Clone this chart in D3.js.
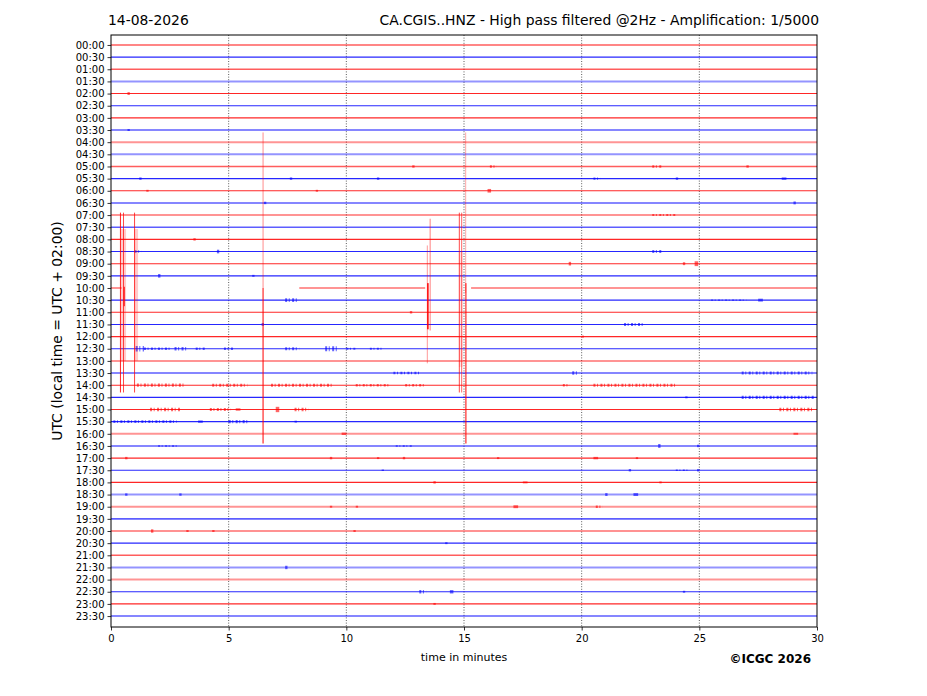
<!DOCTYPE html>
<html>
<head>
<meta charset="utf-8">
<script src="https://cdn.jsdelivr.net/npm/d3@7"></script>
<style>
  body { margin: 0; background: #fff; }
  svg text { font-family: "DejaVu Sans", sans-serif; fill: #000; }
</style>
</head>
<body>
<div id="heli"></div>
<script>
// Row labels (one trace every 30 minutes)
var rowLabels = ["00:00","00:30","01:00","01:30","02:00","02:30","03:00","03:30",
  "04:00","04:30","05:00","05:30","06:00","06:30","07:00","07:30",
  "08:00","08:30","09:00","09:30","10:00","10:30","11:00","11:30",
  "12:00","12:30","13:00","13:30","14:00","14:30","15:00","15:30",
  "16:00","16:30","17:00","17:30","18:00","18:30","19:00","19:30",
  "20:00","20:30","21:00","21:30","22:00","22:30","23:00","23:30"];

// Background noise level of each trace (1 quiet .. 3 noisy)
var rowNoise = [2,1,2,3,1,1,1,2, 3,3,2,1,1,2,3,2, 1,1,1,1,3,1,1,1,
  1,1,3,2,1,1,1,1, 3,2,1,1,1,3,3,2, 1,1,2,3,3,1,1,2];

var xTicks = [0, 5, 10, 15, 20, 25, 30];

// Missing data: [row, from minute, to minute]
var gaps = [[20, 0.45, 8.0], [20, 13.35, 15.3]];

// Short bursts of signal: [row, from minute, to minute, amplitude in rows]
var bursts = [
  [4, 0.7, 0.8, 0.12],
  [7, 0.7, 0.8, 0.08],
  [10, 12.8, 12.9, 0.1], [10, 16.1, 16.4, 0.1], [10, 23.0, 23.4, 0.1], [10, 27.0, 27.1, 0.1],
  [11, 1.2, 1.3, 0.1], [11, 7.6, 7.7, 0.1], [11, 11.3, 11.4, 0.1], [11, 20.5, 20.8, 0.1],
  [11, 24.0, 24.1, 0.1], [11, 28.5, 28.7, 0.1],
  [12, 16.0, 16.15, 0.15], [12, 1.5, 1.6, 0.08], [12, 8.7, 8.8, 0.08],
  [13, 6.5, 6.6, 0.1], [13, 29.0, 29.1, 0.12],
  [14, 23.0, 24.0, 0.08],
  [16, 3.5, 3.6, 0.1],
  [17, 1.0, 1.3, 0.1], [17, 4.5, 4.6, 0.15], [17, 23.0, 23.4, 0.12],
  [18, 19.45, 19.55, 0.15], [18, 24.3, 24.4, 0.12], [18, 24.8, 24.95, 0.2],
  [19, 2.0, 2.1, 0.15], [19, 6.0, 6.1, 0.08],
  [21, 7.4, 7.9, 0.15], [21, 25.5, 27.0, 0.06], [21, 27.5, 27.7, 0.12],
  [22, 12.7, 12.8, 0.1],
  [23, 6.4, 6.5, 0.12], [23, 21.8, 22.6, 0.12],
  [24, 20.0, 20.1, 0.08],
  [25, 1.05, 1.4, 0.22], [25, 1.4, 2.5, 0.1], [25, 2.7, 3.2, 0.14], [25, 3.6, 4.0, 0.1],
  [25, 4.8, 5.2, 0.1], [25, 7.4, 8.0, 0.12], [25, 9.1, 9.6, 0.2], [25, 10.0, 10.4, 0.08],
  [25, 11.0, 11.5, 0.08],
  [27, 12.0, 13.1, 0.1], [27, 19.6, 19.9, 0.14], [27, 26.8, 29.8, 0.12],
  [28, 1.1, 3.1, 0.13], [28, 4.3, 5.8, 0.12], [28, 6.8, 9.4, 0.12], [28, 10.4, 11.8, 0.1],
  [28, 12.5, 13.3, 0.1], [28, 19.2, 19.5, 0.1], [28, 20.5, 24.0, 0.12],
  [29, 24.4, 24.5, 0.08], [29, 26.8, 29.9, 0.13],
  [30, 1.66, 2.93, 0.14], [30, 4.2, 5.1, 0.12], [30, 5.3, 5.5, 0.1], [30, 7.0, 7.15, 0.22],
  [30, 7.8, 8.4, 0.15], [30, 28.4, 29.8, 0.14],
  [31, 0.1, 2.8, 0.12], [31, 3.7, 3.9, 0.1], [31, 5.0, 5.8, 0.13], [31, 7.8, 7.9, 0.08],
  [32, 9.8, 10.0, 0.1], [32, 29.0, 29.2, 0.08],
  [33, 2.0, 2.8, 0.06], [33, 12.1, 12.8, 0.06], [33, 23.25, 23.35, 0.16], [33, 24.9, 25.0, 0.1],
  [34, 0.6, 0.7, 0.1], [34, 9.3, 9.4, 0.1], [34, 11.3, 11.4, 0.08], [34, 12.4, 12.5, 0.1],
  [34, 16.4, 16.5, 0.08], [34, 20.5, 20.7, 0.1], [34, 22.3, 22.4, 0.08],
  [35, 11.5, 11.6, 0.06], [35, 22.0, 22.1, 0.1], [35, 24.0, 24.5, 0.06], [35, 24.9, 25.0, 0.1],
  [36, 13.7, 13.8, 0.1], [36, 17.5, 17.7, 0.08], [36, 23.3, 23.4, 0.08],
  [37, 0.6, 0.7, 0.1], [37, 2.9, 3.0, 0.1], [37, 21.0, 21.1, 0.12], [37, 22.2, 22.4, 0.12],
  [38, 9.3, 9.4, 0.08], [38, 10.4, 10.5, 0.08], [38, 17.1, 17.3, 0.12], [38, 20.6, 20.9, 0.1],
  [40, 1.7, 1.8, 0.14], [40, 3.2, 3.3, 0.08], [40, 4.3, 4.4, 0.08], [40, 10.3, 10.4, 0.08],
  [41, 14.2, 14.3, 0.08],
  [43, 7.4, 7.5, 0.14],
  [45, 13.1, 13.4, 0.14], [45, 14.4, 14.55, 0.14], [45, 24.3, 24.4, 0.08],
  [46, 13.7, 13.8, 0.08]
];

// Large spikes on the 10:00 trace: [from minute, to minute, up (rows), down (rows), strength]
var spikeRow = 20;
var spikes = [
  [0.42, 0.64, 4.85, 6.0, 0.2],
  [0.98, 1.15, 4.85, 6.0, 0.2],
  [14.78, 14.95, 3.0, 6.5, 0.12],
  [0.38, 0.40, 6.2, 8.6, 0.85],
  [0.51, 0.53, 6.2, 8.6, 0.7],
  [0.54, 0.57, 0.1, 1.5, 1.0],
  [0.98, 1.0, 6.2, 8.6, 0.75],
  [6.44, 6.46, 12.8, 0, 0.45],
  [6.44, 6.47, 0, 12.8, 1.0],
  [13.42, 13.46, 3.5, 6.2, 0.4],
  [13.43, 13.5, 0.4, 3.4, 0.9],
  [13.54, 13.56, 5.7, 3.5, 0.5],
  [14.78, 14.8, 6.2, 8.6, 0.7],
  [14.88, 14.9, 6.2, 8.6, 0.6],
  [15.05, 15.07, 12.8, 0.4, 0.35],
  [15.06, 15.1, 0.4, 12.8, 1.0]
];

// SVG size and plot box
var svgWidth = 927;
var svgHeight = 696;
var plot = { left: 111, right: 817, top: 35, bottom: 627 };

var svg = d3.select("#heli")
  .append("svg")
  .attr("width", svgWidth)
  .attr("height", svgHeight);

// Scales
var xScale = d3.scaleLinear().domain([0, 30]).range([plot.left, plot.right]);
var yScale = d3.scaleLinear().domain([-0.82, 47.9]).range([plot.top, plot.bottom]);
var widthScale = d3.scaleLinear().domain([1, 3]).range([1.1, 2.0]);
var alphaScale = d3.scaleLinear().domain([1, 3]).range([0.85, 0.42]);
var rowPx = yScale(1) - yScale(0);

function rowColor(i) {
  return i % 2 === 0 ? "#ff0000" : "#0000ff";
}

// Dotted vertical grid
svg.append("g")
  .selectAll("line")
  .data(xTicks.slice(1, -1))
  .enter()
  .append("line")
  .attr("x1", d => xScale(d))
  .attr("x2", d => xScale(d))
  .attr("y1", plot.top)
  .attr("y2", plot.bottom)
  .attr("stroke", "#000")
  .attr("stroke-width", 0.8)
  .attr("stroke-dasharray", "1,1.6")
  .attr("opacity", 0.8);

// Split each trace into segments around the data gaps
var segments = [];
rowLabels.forEach((lab, i) => {
  var start = 0;
  gaps.filter(g => g[0] === i)
    .sort((a, b) => a[1] - b[1])
    .forEach(g => {
      segments.push({ row: i, from: start, to: g[1] });
      start = g[2];
    });
  segments.push({ row: i, from: start, to: 30 });
});

var line = d3.line()
  .x(d => xScale(d[0]))
  .y(d => yScale(d[1]));

svg.append("g")
  .selectAll("path")
  .data(segments)
  .enter()
  .append("path")
  .attr("d", d => line([[d.from, d.row], [d.to, d.row]]))
  .attr("fill", "none")
  .attr("stroke", d => rowColor(d.row))
  .attr("stroke-width", d => widthScale(rowNoise[d.row]))
  .attr("stroke-opacity", d => alphaScale(rowNoise[d.row]));

// Bursts, drawn as broken thick strokes
svg.append("g")
  .selectAll("path")
  .data(bursts)
  .enter()
  .append("path")
  .attr("d", d => line([[d[1], d[0]], [Math.max(d[2], d[1] + 0.05), d[0]]]))
  .attr("fill", "none")
  .attr("stroke", d => rowColor(d[0]))
  .attr("stroke-width", d => 2 * d[3] * rowPx)
  .attr("stroke-dasharray", d => (d[2] - d[1] > 0.25 ? "2,1.6,1,2.4" : null))
  .attr("stroke-opacity", 0.6);

// Spikes of the 10:00 trace
svg.append("g")
  .selectAll("rect")
  .data(spikes)
  .enter()
  .append("rect")
  .attr("x", d => xScale(d[0]))
  .attr("width", d => Math.max(1, xScale(d[1]) - xScale(d[0])))
  .attr("y", d => yScale(spikeRow - d[2]))
  .attr("height", d => yScale(spikeRow + d[3]) - yScale(spikeRow - d[2]))
  .attr("fill", rowColor(spikeRow))
  .attr("fill-opacity", d => d[4]);

// Axes
var bottomAxis = d3.axisBottom(xScale)
  .tickValues(xTicks)
  .tickSizeInner(3.5)
  .tickSizeOuter(0)
  .tickPadding(4);

var leftAxis = d3.axisLeft(yScale)
  .tickValues(d3.range(rowLabels.length))
  .tickFormat(i => rowLabels[i])
  .tickSizeInner(3.5)
  .tickSizeOuter(0)
  .tickPadding(3);

var xAxis = svg.append("g")
  .attr("transform", `translate(0, ${plot.bottom})`)
  .call(bottomAxis);

var yAxis = svg.append("g")
  .attr("transform", `translate(${plot.left}, 0)`)
  .call(leftAxis);

[xAxis, yAxis].forEach(ax => {
  ax.select(".domain").remove();
  ax.selectAll("text")
    .attr("font-size", "10px")
    .attr("font-family", "DejaVu Sans, sans-serif");
  ax.selectAll("line").attr("stroke", "#000").attr("stroke-width", 0.8);
});

// Plot frame
svg.append("rect")
  .attr("x", plot.left)
  .attr("y", plot.top)
  .attr("width", plot.right - plot.left)
  .attr("height", plot.bottom - plot.top)
  .attr("fill", "none")
  .attr("stroke", "#000")
  .attr("stroke-width", 1);

// Titles and labels
svg.append("text")
  .attr("x", 108)
  .attr("y", 25)
  .attr("font-size", "13.9px")
  .text("14-08-2026");

svg.append("text")
  .attr("x", 819)
  .attr("y", 25)
  .attr("text-anchor", "end")
  .attr("font-size", "13.9px")
  .text("CA.CGIS..HNZ - High pass filtered @2Hz - Amplification: 1/5000");

svg.append("text")
  .attr("transform", `translate(62, ${(plot.top + plot.bottom) / 2}) rotate(-90)`)
  .attr("text-anchor", "middle")
  .attr("font-size", "13.9px")
  .text("UTC (local time = UTC + 02:00)");

svg.append("text")
  .attr("x", xScale(15))
  .attr("y", 661)
  .attr("text-anchor", "middle")
  .attr("font-size", "11px")
  .text("time in minutes");

svg.append("text")
  .attr("x", 811)
  .attr("y", 663)
  .attr("text-anchor", "end")
  .attr("font-size", "12px")
  .attr("font-weight", "bold")
  .text("©ICGC 2026");
</script>
</body>
</html>
